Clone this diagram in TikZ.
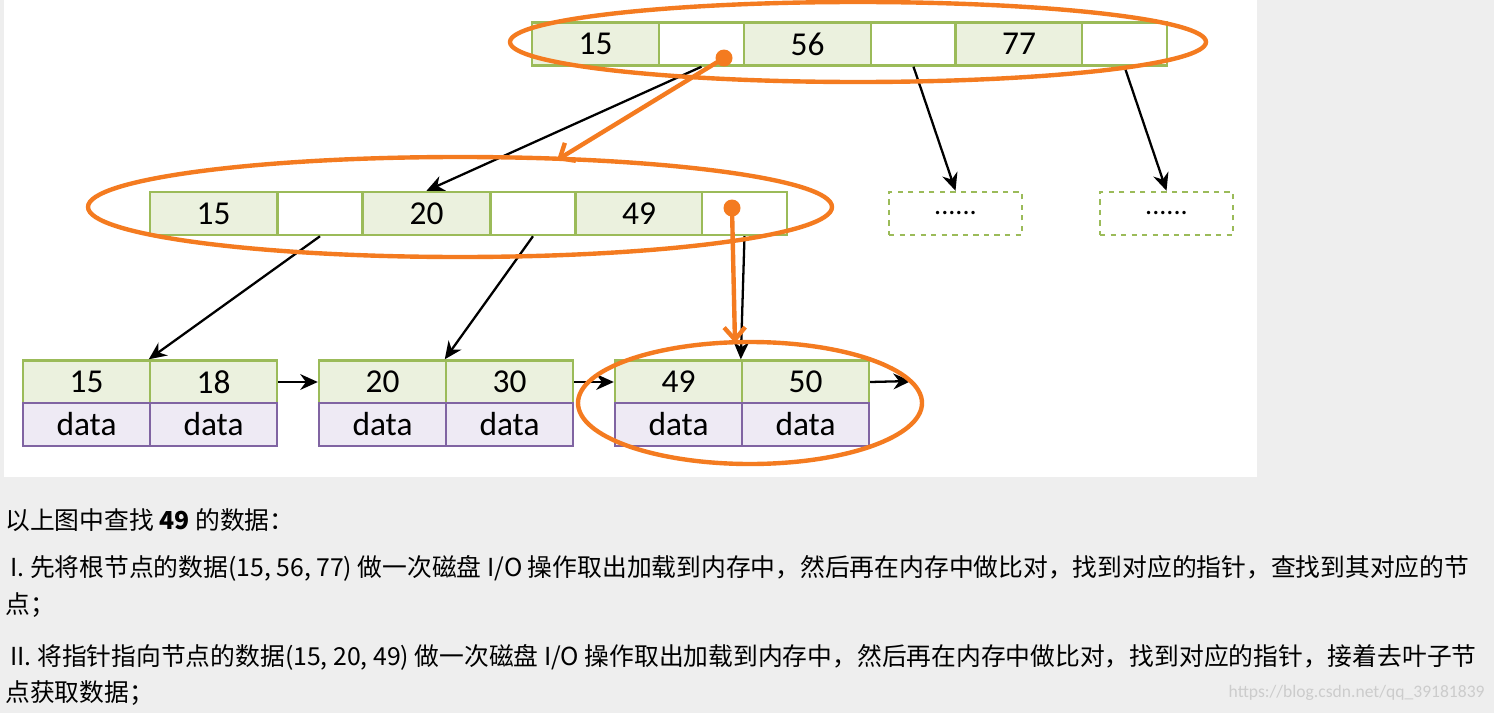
\documentclass[tikz,border=0pt]{standalone}
\usepackage{fontspec}
\setmainfont{Carlito}
\newfontfamily\cjk{Noto Sans CJK SC}
\usetikzlibrary{arrows.meta}
\definecolor{gfill}{HTML}{EBF1DE}
\definecolor{gline}{HTML}{9BBB59}
\definecolor{pfill}{HTML}{EEEAF4}
\definecolor{pline}{HTML}{8064A2}
\definecolor{org}{HTML}{F47B20}
\definecolor{bg}{HTML}{EEEEEE}
\begin{document}
\begin{tikzpicture}[x=0.02cm,y=-0.02cm,
 cell/.style={draw=gline,line width=1.4pt,minimum height=0.86cm,inner sep=0pt,font=\fontsize{19}{19}\selectfont},
 key/.style={cell,fill=gfill,minimum width=2.54cm},
 ptr/.style={cell,fill=white,minimum width=1.7cm},
 dat/.style={cell,draw=pline,fill=pfill,minimum width=2.54cm},
 dots/.style={draw=gline,dashed,line width=1.4pt,minimum width=2.66cm,minimum height=0.86cm,font=\fontsize{16}{16}\selectfont},
 arr/.style={-{Stealth[length=10pt,width=9pt]},line width=1.3pt},
 oarr/.style={-{Straight Barb[length=7pt,width=12pt]},org,line width=2.5pt},
 oell/.style={draw=org,line width=2.5pt},
 txt/.style={anchor=west,inner sep=0pt,font=\cjk\fontsize{14.1}{16}\selectfont}]
\useasboundingbox (0,0) rectangle (1494,713);
\fill[bg] (0,0) rectangle (1494,713);
\fill[white] (4,0) rectangle (1257,477);
% root
\node[key] (r1) at (595.5,44) {15};
\node[ptr] (r2) at (701.5,44) {};
\node[key] (r3) at (807.5,44) {56};
\node[ptr] (r4) at (913.5,44) {};
\node[key] (r5) at (1019,44) {77};
\node[ptr] (r6) at (1124.5,44) {};
% level 2
\node[key] (m1) at (213.5,213.5) {15};
\node[ptr] (m2) at (320,213.5) {};
\node[key] (m3) at (426.5,213.5) {20};
\node[ptr] (m4) at (533,213.5) {};
\node[key] (m5) at (639,213.5) {49};
\node[ptr] (m6) at (744.5,213.5) {};
\node[dots] (d1) at (955.5,213.5) {......};
\node[dots] (d2) at (1166.5,213.5) {......};
% leaves
\foreach \n/\x/\a/\b in {1/86.5/15/18, 2/382.5/20/30, 3/678.5/49/50}{
  \node[key] (k\n a) at (\x,382) {\a};
  \node[key] (k\n b) at (\x+127,382) {\b};
  \node[dat] (t\n a) at (\x,424.5) {data};
  \node[dat] (t\n b) at (\x+127,424.5) {data};
}
\coordinate (e3) at (911,381);
% black arrows
\draw[arr] (r2.south) -- (m3.north);
\draw[arr] (r4.south) -- (d1.north);
\draw[arr] (r6.south) -- (d2.north);
\draw[arr] (m2.south) -- (k1b.north west);
\draw[arr] (m4.south) -- (k2b.north west);
\draw[arr] (m6.south) -- (k3b.north west);
\draw[arr] (k1b.east) -- (k2a.west);
\draw[arr] (k2b.east) -- (k3a.west);
\draw[arr] (k3b.east) -- (e3);
% orange
\draw[oell] (858,42) ellipse [x radius=348, y radius=40];
\draw[oell] (460,207) ellipse [x radius=372, y radius=50];
\draw[oell] (750,403) ellipse [x radius=172, y radius=61];
\fill[org] (724,58) circle (0.17cm);
\fill[org] (732,208) circle (0.17cm);
\coordinate (o1) at (557,160);
\coordinate (o2) at (735,343);
\draw[oarr] (724,58) -- (o1);
\draw[oarr] (732,208) -- (o2);
% text
\node[txt] (l0) at (5,520) {以上图中查找 \textbf{49} 的数据：};
\node[txt] (l1) at (10,568) {I. 先将根节点的数据(15, 56, 77) 做一次磁盘 I/O 操作取出加载到内存中，然后再在内存中做比对，找到对应的指针，查找到其对应的节};
\node[txt] (l2) at (5,605) {点；};
\node[txt] (l3) at (10,657) {II. 将指针指向节点的数据(15, 20, 49) 做一次磁盘 I/O 操作取出加载到内存中，然后再在内存中做比对，找到对应的指针，接着去叶子节};
\node[txt] (l4) at (5,693) {点获取数据；};
\node[anchor=east,inner sep=0pt,text=gray!40,font=\fontsize{10}{10}\selectfont] (wm) at (1485,693) {https://blog.csdn.net/qq\_39181839};
\end{tikzpicture}
\end{document}
